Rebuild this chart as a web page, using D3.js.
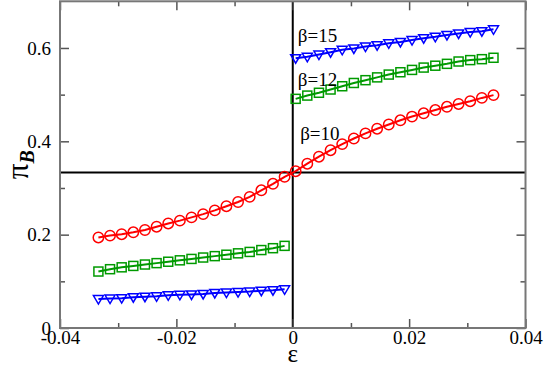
<!DOCTYPE html>
<html>
<head>
<meta charset="utf-8">
<script src="https://cdn.jsdelivr.net/npm/d3@7"></script>
<style>
  body { margin: 0; background: #fff; }
  svg { display: block; }
  .tick line { stroke: #555; stroke-width: 1.5; }
</style>
</head>
<body>
<svg id="chart" width="545" height="367"></svg>
<script>
// epsilon values for the two branches
let epsLeft = [-0.0334, -0.0314, -0.0294, -0.0274, -0.0254, -0.0234, -0.0214, -0.0194, -0.0174,
  -0.0154, -0.0134, -0.0114, -0.0094, -0.0074, -0.0054, -0.0034, -0.0014]
let epsRight = [0.0005, 0.0025, 0.0045, 0.0065, 0.0085, 0.0105, 0.0125, 0.0145, 0.0165,
  0.0185, 0.0205, 0.0225, 0.0245, 0.0265, 0.0285, 0.0305, 0.0325, 0.0345]

// pi_B, beta = 10
let b10Left = [0.194, 0.198, 0.201, 0.205, 0.210, 0.217, 0.224, 0.230, 0.237,
  0.244, 0.252, 0.261, 0.270, 0.281, 0.295, 0.309, 0.324]
let b10Right = [0.336, 0.352, 0.367, 0.381, 0.394, 0.406, 0.417, 0.427, 0.436,
  0.445, 0.453, 0.460, 0.467, 0.474, 0.480, 0.486, 0.493, 0.499]
// beta = 12
let b12Left = [0.121, 0.126, 0.130, 0.133, 0.136, 0.139, 0.142, 0.145, 0.148,
  0.151, 0.154, 0.157, 0.160, 0.163, 0.167, 0.171, 0.176]
let b12Right = [0.491, 0.498, 0.504, 0.511, 0.518, 0.525, 0.531, 0.537, 0.543,
  0.548, 0.553, 0.558, 0.562, 0.566, 0.571, 0.574, 0.576, 0.579]
// beta = 15
let b15Left = [0.062, 0.063, 0.064, 0.066, 0.067, 0.068, 0.070, 0.071, 0.072,
  0.073, 0.075, 0.076, 0.077, 0.078, 0.080, 0.081, 0.083]
let b15Right = [0.578, 0.581, 0.586, 0.591, 0.596, 0.599, 0.603, 0.606, 0.610,
  0.613, 0.617, 0.621, 0.624, 0.628, 0.631, 0.634, 0.636, 0.640]

let seriesNames = ["β=10", "β=12", "β=15"]
let seriesColors = ["#ff0000", "#009a00", "#0000ff"]
let labelPos = [[-0.0001, 0.403], [-0.0005, 0.518], [-0.0005, 0.612]]

let xTicks = [-0.04, -0.02, 0, 0.02, 0.04]
let xTickLabels = ["-0.04", "-0.02", "0", "0.02", "0.04"]
let xMinor = [-0.03, -0.01, 0.01, 0.03]
let yTicks = [0, 0.2, 0.4, 0.6]
let yTickLabels = ["0", "0.2", "0.4", "0.6"]
let yMinor = [0.1, 0.3, 0.5]
let hLine = 1 / 3

let serif = "'Liberation Serif', 'Times New Roman', Times, serif"

let svg = d3.select("#chart")
let pLeft = 60, pRight = 525.5, pTop = 1.3, pBottom = 328

let xScale = d3.scaleLinear().domain([-0.04, 0.04]).range([pLeft, pRight])
let yScale = d3.scaleLinear().domain([0, 0.7]).range([pBottom, pTop])

// reference lines at eps=0 and pi=1/3
svg.append("line")
  .attr("x1", pLeft).attr("x2", pRight)
  .attr("y1", yScale(hLine)).attr("y2", yScale(hLine))
  .attr("stroke", "#000").attr("stroke-width", 2)
svg.append("line")
  .attr("x1", xScale(0)).attr("x2", xScale(0))
  .attr("y1", pTop).attr("y2", pBottom)
  .attr("stroke", "#000").attr("stroke-width", 2)

// series: [x, y] pairs per branch
let branches = [
  {s: 0, pts: epsLeft.map((e, i) => [e, b10Left[i]]).concat(epsRight.map((e, i) => [e, b10Right[i]]))},
  {s: 1, pts: epsLeft.map((e, i) => [e, b12Left[i]])},
  {s: 1, pts: epsRight.map((e, i) => [e, b12Right[i]])},
  {s: 2, pts: epsLeft.map((e, i) => [e, b15Left[i]])},
  {s: 2, pts: epsRight.map((e, i) => [e, b15Right[i]])}
]

let line = d3.line().x(d => xScale(d[0])).y(d => yScale(d[1]))

branches.forEach(function (b) {
  let col = seriesColors[b.s]
  svg.append("path")
    .attr("d", line(b.pts))
    .attr("fill", "none")
    .attr("stroke", col)
    .attr("stroke-width", 2)

  let m = svg.selectAll(null)
    .data(b.pts)
    .enter()
    .append("g")
    .attr("transform", d => `translate(${xScale(d[0])},${yScale(d[1])})`)

  if (b.s == 0) {
    m.append("circle").attr("r", 5.2)
      .attr("fill", "none").attr("stroke", col).attr("stroke-width", 1.5)
  } else if (b.s == 1) {
    m.append("rect").attr("x", -4.5).attr("y", -4.5).attr("width", 9).attr("height", 9)
      .attr("fill", "none").attr("stroke", col).attr("stroke-width", 1.5)
  } else {
    m.append("path").attr("d", "M-5,-3.5L5,-3.5L0,5Z")
      .attr("fill", "none").attr("stroke", col).attr("stroke-width", 1.5)
  }
})

// beta labels
seriesNames.forEach(function (d, i) {
  svg.append("text")
    .attr("x", xScale(labelPos[i][0]) + 8)
    .attr("y", yScale(labelPos[i][1]))
    .style("font-family", serif)
    .style("font-size", "19px")
    .text(d)
})

// axes, ticks inward
let xAxis = d3.axisBottom(xScale).tickValues(xTicks).tickSize(-9).tickPadding(2)
  .tickFormat((d, i) => xTickLabels[i])
svg.append("g").attr("transform", `translate(0,${pBottom})`).call(xAxis)
svg.append("g").attr("transform", `translate(0,${pBottom})`)
  .call(d3.axisBottom(xScale).tickValues(xMinor).tickSize(-5).tickFormat(""))
svg.append("g").attr("transform", `translate(0,${pTop})`)
  .call(d3.axisTop(xScale).tickValues(xTicks).tickSize(-9).tickFormat(""))
svg.append("g").attr("transform", `translate(0,${pTop})`)
  .call(d3.axisTop(xScale).tickValues(xMinor).tickSize(-5).tickFormat(""))

let yAxis = d3.axisLeft(yScale).tickValues(yTicks).tickSize(-9).tickPadding(9)
  .tickFormat((d, i) => yTickLabels[i])
svg.append("g").attr("transform", `translate(${pLeft},0)`).call(yAxis)
svg.append("g").attr("transform", `translate(${pLeft},0)`)
  .call(d3.axisLeft(yScale).tickValues(yMinor).tickSize(-5).tickFormat(""))
svg.append("g").attr("transform", `translate(${pRight},0)`)
  .call(d3.axisRight(yScale).tickValues(yTicks).tickSize(-9).tickFormat(""))
svg.append("g").attr("transform", `translate(${pRight},0)`)
  .call(d3.axisRight(yScale).tickValues(yMinor).tickSize(-5).tickFormat(""))

svg.selectAll(".domain").remove()
svg.selectAll(".tick text")
  .style("font-family", serif)
  .style("font-size", "19px")
  .attr("fill", "#000")

// frame
svg.append("rect")
  .attr("x", pLeft).attr("y", pTop)
  .attr("width", pRight - pLeft).attr("height", pBottom - pTop)
  .attr("fill", "none").attr("stroke", "#777").attr("stroke-width", 2)

// axis labels
svg.append("text")
  .attr("x", xScale(0)).attr("y", 362)
  .attr("text-anchor", "middle")
  .style("font-family", serif)
  .style("font-size", "25px")
  .text("ε")

let yl = svg.append("text")
  .attr("transform", `translate(28,${(pTop + pBottom) / 2}) rotate(-90)`)
  .attr("text-anchor", "middle")
  .style("font-family", serif)
yl.append("tspan").style("font-size", "31px").text("π")
yl.append("tspan").style("font-size", "20px").attr("font-weight", "bold").attr("font-style", "italic")
  .attr("dy", 6).text("B")
</script>
</body>
</html>
